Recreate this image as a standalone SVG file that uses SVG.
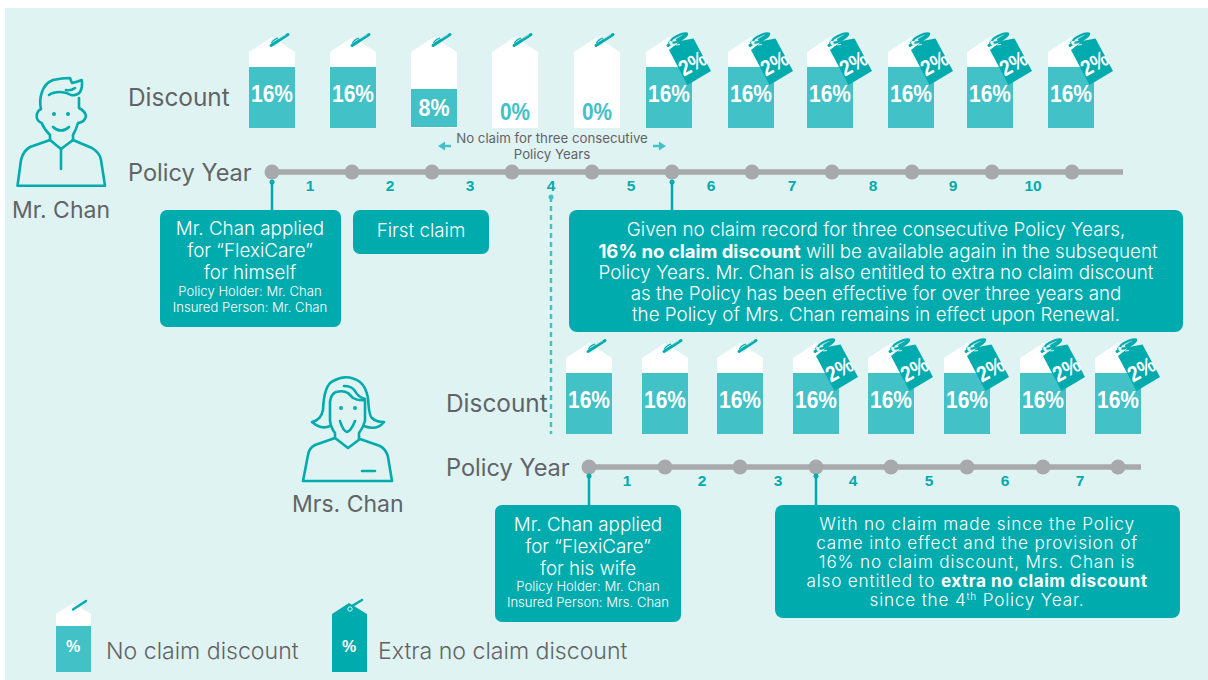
<svg xmlns="http://www.w3.org/2000/svg" width="1208" height="680" viewBox="0 0 1208 680">
<style>
text{font-family:"Inter","Liberation Sans",sans-serif;fill:#626366}
.lbl{font-size:23px}
.d{font-size:24.400px}
.py{font-size:23.600px}
.leg{font-size:23.100px;font-weight:300}
.cap{font-size:18.800px;fill:#fff;text-anchor:middle;font-weight:300}
.tight{font-size:17.200px;letter-spacing:.8px}
.sm{font-size:13.100px;fill:#fff;text-anchor:middle;font-weight:300}
.b{font-weight:700;fill:#fff}
.bs{font-size:18.500px}
.pct{font-family:"Liberation Sans",sans-serif;font-weight:700;font-size:24px;fill:#fff;text-anchor:middle}
.yr{font-family:"Liberation Sans",sans-serif;font-weight:700;font-size:15.500px;fill:#00abae;text-anchor:middle}
.ax{stroke:#a7a9ac;stroke-width:5.500;fill:none}
.dot{fill:#a7a9ac}
.lead{stroke:#00abae;stroke-width:2.500;fill:none}
.pin{fill:#00abae}
.box{fill:#00abae}
.icon{fill:none;stroke:#00abae;stroke-width:2.600;stroke-linecap:round;stroke-linejoin:round}
</style>
<defs>
<g id="clip">
<circle cx="275" cy="42" r="4" fill="#e0f3f3"/>
<path d="M271 45.500L288 34.500" stroke="#00abae" stroke-width="3" stroke-linecap="round" fill="none"/>
<path d="M271.500 43Q273 40 278 38" stroke="#00abae" stroke-width="1.200" fill="none"/>
<path d="M279 38.700L286 34.500" stroke="#bfe6e7" stroke-width=".8" fill="none"/>
</g>
<g id="tag"><path d="M249 128V52L272 37L295 52V128Z" fill="#fff"/><use href="#clip"/></g>
<g id="t16"><use href="#tag"/><rect x="249" y="67" width="46" height="61" fill="#42c1c6"/></g>
<g id="extra">
<path d="M669 50L680 41L693.500 38.500L711 71L687.500 85Z" fill="#00abae"/>
<circle cx="673" cy="42" r="3.800" fill="#e0f3f3"/>
<path d="M671 41Q672 38 678 35.500Q684 32.500 687 33.500Q687.500 36 682 39Q676 43 672.500 42.500" stroke="#00abae" stroke-width="2.200" fill="none"/>
<path d="M676 45L680 44.500" stroke="#e0f3f3" stroke-width="1.200" fill="none"/>
<text transform="translate(696 70) rotate(-29)" class="pct" style="font-size:22px" textLength="28" lengthAdjust="spacingAndGlyphs">2%</text>
</g>
</defs>
<rect width="1208" height="680" fill="#fff"/>
<rect x="5" y="8" width="1203" height="672" fill="#e0f3f3"/>

<g id="connectors">
<path class="ax" d="M272 172H1123"/>
<path class="ax" d="M589 467H1141"/>
<g class="dot"><circle cx="272" cy="172" r="7.500"/><circle cx="352" cy="172" r="7.500"/><circle cx="432" cy="172" r="7.500"/><circle cx="512" cy="172" r="7.500"/><circle cx="592" cy="172" r="7.500"/><circle cx="672" cy="172" r="7.500"/><circle cx="752" cy="172" r="7.500"/><circle cx="832" cy="172" r="7.500"/><circle cx="912" cy="172" r="7.500"/><circle cx="992" cy="172" r="7.500"/><circle cx="1072" cy="172" r="7.500"/>
<circle cx="589" cy="467" r="7.500"/><circle cx="665" cy="467" r="7.500"/><circle cx="740" cy="467" r="7.500"/><circle cx="816" cy="467" r="7.500"/><circle cx="891" cy="467" r="7.500"/><circle cx="967" cy="467" r="7.500"/><circle cx="1043" cy="467" r="7.500"/><circle cx="1118" cy="467" r="7.500"/></g>
<path class="lead" d="M272 182V211M672 182V211M589 476V506M816 476V506"/>
<path class="lead" d="M551 197V434" stroke-dasharray="5 4" style="stroke:#42c1c6"/>
<g class="pin"><circle cx="272" cy="182" r="2.500"/><circle cx="672" cy="182" r="2.500"/><circle cx="589" cy="476" r="2.500"/><circle cx="816" cy="476" r="2.500"/><circle cx="551" cy="197" r="2.500" style="fill:#42c1c6"/></g>
<path d="M451 146H444" stroke="#42c1c6" stroke-width="2.500"/><path d="M438 146L445 141.500V150.500Z" fill="#42c1c6"/>
<path d="M653 146H660" stroke="#42c1c6" stroke-width="2.500"/><path d="M666 146L659 141.500V150.500Z" fill="#42c1c6"/>
</g>

<g id="mr-chan">
<g class="icon">
<path d="M17.500 185.700H105L101 160Q100 153 92 148L73 140L61 149L50 140L30 147Q23 151 21 160Z"/>
<path d="M61 149V169M50 140V135Q44 129 41.700 123Q37 121 36.700 117Q36.500 111 41 109Q39 100 42 92Q45 83 53 80Q62 78 70 78Q71 81 72 83Q77 82 81.700 80Q83 87 80 92Q77 96 71 95Q66 92 60 92Q53 92 49 95"/>
<path d="M79 98V108Q85 111 86 116Q85 122 78 123Q76 130 73 135V140M66 90Q71 91 75 88M53 127Q61 134 69 127"/>
</g>
<circle cx="54" cy="114" r="2" class="pin"/><circle cx="68" cy="114" r="2" class="pin"/>
<text x="12" y="218" class="lbl">Mr. Chan</text>
</g>

<g id="mrs-chan">
<g class="icon">
<path d="M303 481H392L388 457Q386 449 380 446L360 439L348 448L335 438L315 445Q309 448 308 455Z"/>
<path d="M362 471H375M335 438V433Q331 428 330 421V402Q331 394 336 392Q343 390 348 393Q351 396 353 398Q358 401 365 400V421Q363 428 359 433V439M340 421Q343 431 347 432Q351 431 355 421"/>
<path d="M330 426Q321 430 312 422Q321 420 323 410Q324 385 333 381Q347 373 360 382Q366 387 368 398Q369 416 372 418Q376 422 384 422Q377 431 364 426M344 386Q352 386 355 391Q358 397 365 399"/>
</g>
<circle cx="341" cy="408" r="2" class="pin"/><circle cx="355" cy="408" r="2" class="pin"/>
<text x="292" y="512" class="lbl">Mrs. Chan</text>
</g>

<g id="top-discount">
<text x="128" y="106" class="d">Discount</text>
<use href="#t16"/><text x="272" y="102" class="pct" textLength="42" lengthAdjust="spacingAndGlyphs">16%</text>
<use href="#t16" x="81"/><text x="353" y="102" class="pct" textLength="42" lengthAdjust="spacingAndGlyphs">16%</text>
<use href="#tag" x="162"/><rect x="411" y="89" width="46" height="38" fill="#42c1c6"/><text x="434" y="116" class="pct" textLength="31" lengthAdjust="spacingAndGlyphs">8%</text>
<use href="#tag" x="243"/><text x="515" y="120" class="pct" style="fill:#42c1c6" textLength="30" lengthAdjust="spacingAndGlyphs">0%</text>
<use href="#tag" x="325"/><text x="597" y="120" class="pct" style="fill:#42c1c6" textLength="30" lengthAdjust="spacingAndGlyphs">0%</text>
<use href="#t16" x="397"/><use href="#extra"/><text x="669" y="102" class="pct" textLength="42" lengthAdjust="spacingAndGlyphs">16%</text>
<use href="#t16" x="479"/><use href="#extra" x="82"/><text x="751" y="102" class="pct" textLength="42" lengthAdjust="spacingAndGlyphs">16%</text>
<use href="#t16" x="558"/><use href="#extra" x="161"/><text x="830" y="102" class="pct" textLength="42" lengthAdjust="spacingAndGlyphs">16%</text>
<use href="#t16" x="639"/><use href="#extra" x="242"/><text x="911" y="102" class="pct" textLength="42" lengthAdjust="spacingAndGlyphs">16%</text>
<use href="#t16" x="718"/><use href="#extra" x="321"/><text x="990" y="102" class="pct" textLength="42" lengthAdjust="spacingAndGlyphs">16%</text>
<use href="#t16" x="799"/><use href="#extra" x="402"/><text x="1071" y="102" class="pct" textLength="42" lengthAdjust="spacingAndGlyphs">16%</text>
</g>

<g id="top-timeline">
<text x="128" y="181" class="py">Policy Year</text>
<text x="310" y="191" class="yr">1</text><text x="390" y="191" class="yr">2</text><text x="470" y="191" class="yr">3</text><text x="551" y="191" class="yr">4</text><text x="631" y="191" class="yr">5</text><text x="711" y="191" class="yr">6</text><text x="792" y="191" class="yr">7</text><text x="873" y="191" class="yr">8</text><text x="953" y="191" class="yr">9</text><text x="1033" y="191" class="yr">10</text>
<text x="552" y="143" font-size="13.250" text-anchor="middle">No claim for three consecutive</text>
<text x="552" y="159" font-size="13.250" text-anchor="middle">Policy Years</text>
</g>

<g id="box-applied-1">
<rect class="box" x="160" y="210" width="181" height="117" rx="7"/>
<text x="250" y="235" class="cap">Mr. Chan applied</text><text x="250" y="257" class="cap">for “FlexiCare”</text><text x="250" y="279" class="cap">for himself</text>
<text x="250" y="296" class="sm">Policy Holder: Mr. Chan</text><text x="250" y="312" class="sm">Insured Person: Mr. Chan</text>
</g>
<g id="box-first-claim">
<rect class="box" x="353" y="210" width="136" height="44" rx="7"/>
<text x="421" y="237" class="cap">First claim</text>
</g>
<g id="box-given">
<rect class="box" x="569" y="210" width="614" height="122" rx="8"/>
<text x="876" y="236" class="cap">Given no claim record for three consecutive Policy Years,</text>
<text x="878" y="258" class="cap"><tspan class="b bs">16% no claim discount</tspan> will be available again in the subsequent</text>
<text x="876" y="279" class="cap">Policy Years. Mr. Chan is also entitled to extra no claim discount</text>
<text x="876" y="300" class="cap">as the Policy has been effective for over three years and</text>
<text x="876" y="321" class="cap">the Policy of Mrs. Chan remains in effect upon Renewal.</text>
</g>

<g id="bottom-discount">
<text x="446" y="412" class="d">Discount</text>
<use href="#t16" x="317" y="306"/><text x="589" y="408" class="pct" textLength="42" lengthAdjust="spacingAndGlyphs">16%</text>
<use href="#t16" x="393" y="306"/><text x="665" y="408" class="pct" textLength="42" lengthAdjust="spacingAndGlyphs">16%</text>
<use href="#t16" x="468" y="306"/><text x="740" y="408" class="pct" textLength="42" lengthAdjust="spacingAndGlyphs">16%</text>
<use href="#t16" x="544" y="306"/><use href="#extra" x="147" y="306"/><text x="816" y="408" class="pct" textLength="42" lengthAdjust="spacingAndGlyphs">16%</text>
<use href="#t16" x="619" y="306"/><use href="#extra" x="222" y="306"/><text x="891" y="408" class="pct" textLength="42" lengthAdjust="spacingAndGlyphs">16%</text>
<use href="#t16" x="695" y="306"/><use href="#extra" x="298" y="306"/><text x="967" y="408" class="pct" textLength="42" lengthAdjust="spacingAndGlyphs">16%</text>
<use href="#t16" x="771" y="306"/><use href="#extra" x="374" y="306"/><text x="1043" y="408" class="pct" textLength="42" lengthAdjust="spacingAndGlyphs">16%</text>
<use href="#t16" x="846" y="306"/><use href="#extra" x="449" y="306"/><text x="1118" y="408" class="pct" textLength="42" lengthAdjust="spacingAndGlyphs">16%</text>
</g>

<g id="bottom-timeline">
<text x="446" y="476" class="py">Policy Year</text>
<text x="627" y="486" class="yr">1</text><text x="702" y="486" class="yr">2</text><text x="778" y="486" class="yr">3</text><text x="853" y="486" class="yr">4</text><text x="929" y="486" class="yr">5</text><text x="1005" y="486" class="yr">6</text><text x="1080" y="486" class="yr">7</text>
</g>

<g id="box-applied-2">
<rect class="box" x="495" y="505" width="186" height="117" rx="7"/>
<text x="588" y="531" class="cap">Mr. Chan applied</text><text x="588" y="553" class="cap">for “FlexiCare”</text><text x="588" y="575" class="cap">for his wife</text>
<text x="588" y="591" class="sm">Policy Holder: Mr. Chan</text><text x="588" y="607" class="sm">Insured Person: Mrs. Chan</text>
</g>
<g id="box-with-no-claim">
<rect class="box" x="775" y="505" width="405" height="113" rx="8"/>
<text x="977" y="530" class="cap tight">With no claim made since the Policy</text>
<text x="977" y="549" class="cap tight">came into effect and the provision of</text>
<text x="977" y="568" class="cap tight">16% no claim discount, Mrs. Chan is</text>
<text x="977" y="587" class="cap tight">also entitled to <tspan class="b" style="letter-spacing:.5px">extra no claim discount</tspan></text>
<text x="977" y="606" class="cap tight">since the 4<tspan font-size="10" dy="-6">th</tspan><tspan dy="6"> Policy Year.</tspan></text>
</g>

<g id="legend">
<path d="M56 672V614L73 603L91 614V672Z" fill="#fff"/>
<rect x="56" y="626" width="35" height="46" fill="#42c1c6"/>
<path d="M73 609.500L86 601" stroke="#00abae" stroke-width="2.400" stroke-linecap="round"/>
<text x="73" y="652" class="pct" style="font-size:16px">%</text>
<text x="106" y="659" class="leg">No claim discount</text>
<path d="M332 672V614L349 603L367 614V672Z" fill="#00abae"/>
<path d="M352 606L362 600" stroke="#00abae" stroke-width="2.600" stroke-linecap="round"/>
<circle cx="350" cy="609" r="2.200" fill="none" stroke="#e0f3f3" stroke-width="1"/>
<text x="349" y="652" class="pct" style="font-size:16px">%</text>
<text x="378" y="659" class="leg">Extra no claim discount</text>
</g>
</svg>
